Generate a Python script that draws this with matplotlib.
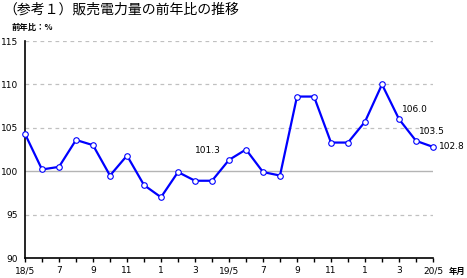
import matplotlib
matplotlib.use("Agg")
import matplotlib.pyplot as plt

plt.rcParams['font.family'] = ['Noto Sans CJK JP', 'DejaVu Sans']

months = ["18/5","18/6","18/7","18/8","18/9","18/10","18/11","18/12",
          "19/1","19/2","19/3","19/4","19/5","19/6","19/7","19/8","19/9","19/10","19/11","19/12",
          "20/1","20/2","20/3","20/4","20/5"]
values = [104.3, 100.2, 100.5, 103.6, 103.0, 99.5, 101.8, 98.4,
          97.0, 99.9, 98.9, 98.9, 101.3, 102.5, 99.9, 99.5, 108.6, 108.6, 103.3, 103.3,
          105.7, 110.0, 106.0, 103.5, 102.8]
tick_labels = ["18/5","","7","","9","","11","","1","","3","",
               "19/5","","7","","9","","11","","1","","3","","20/5"]
labeled = {"19/5": "101.3", "20/3": "106.0", "20/4": "103.5", "20/5": "102.8"}
y_ticks = [90, 95, 100, 105, 110, 115]

fig = plt.figure(figsize=(4.67, 2.78), dpi=100)
ax = fig.add_axes([25/467, 20/278, 408/467, 217/278])

x = list(range(len(months)))
for yv in y_ticks:
    if yv == 90:
        continue
    if yv == 100:
        ax.axhline(yv, color='#b4b4b4', lw=1.0, zorder=1)
    else:
        ax.axhline(yv, color='#c0c0c0', lw=0.9, ls=(0, (3, 3)), zorder=1)

ax.plot(x, values, color='#0000ff', lw=1.6, marker='o', ms=4,
        mfc='white', mec='#0000ff', mew=0.8, zorder=3, clip_on=False)

for i, m in enumerate(months):
    if m in labeled:
        if m == "20/5":
            ax.text(i + 0.35, values[i], labeled[m], fontsize=6.5, va='center', ha='left',
                    family='DejaVu Sans')
        elif m == "19/5":
            ax.text(i - 0.5, values[i] + 0.6, labeled[m], fontsize=6.5, va='bottom', ha='right',
                    family='DejaVu Sans')
        else:
            ax.text(i + 0.2, values[i] + 0.6, labeled[m], fontsize=6.5, va='bottom', ha='left',
                    family='DejaVu Sans')

ax.set_xlim(0, len(months) - 1)
ax.set_ylim(90, 115)
ax.set_yticks(y_ticks)
ax.set_yticklabels([str(v) for v in y_ticks], fontsize=6.5, family='DejaVu Sans')
ax.set_xticks(x)
ax.set_xticklabels(tick_labels, fontsize=6.5, family='DejaVu Sans')
ax.tick_params(axis='x', direction='out', length=3, width=1, pad=3)
ax.tick_params(axis='y', length=0, pad=5)
for s in ['top', 'right']:
    ax.spines[s].set_visible(False)
ax.spines['left'].set_linewidth(1.2)
ax.spines['bottom'].set_linewidth(1.2)

fig.text(3/467, 1 - 10/278, "（参考１）販売電力量の前年比の推移", fontsize=10, va='center', ha='left')
fig.text(12/467, 1 - 27/278, "前年比：%", fontsize=6, fontweight='bold', va='center', ha='left')
fig.text(449/467, 1 - 271/278, "年月", fontsize=6, fontweight='bold', va='center', ha='left')

fig.savefig("out.png", dpi=100)
